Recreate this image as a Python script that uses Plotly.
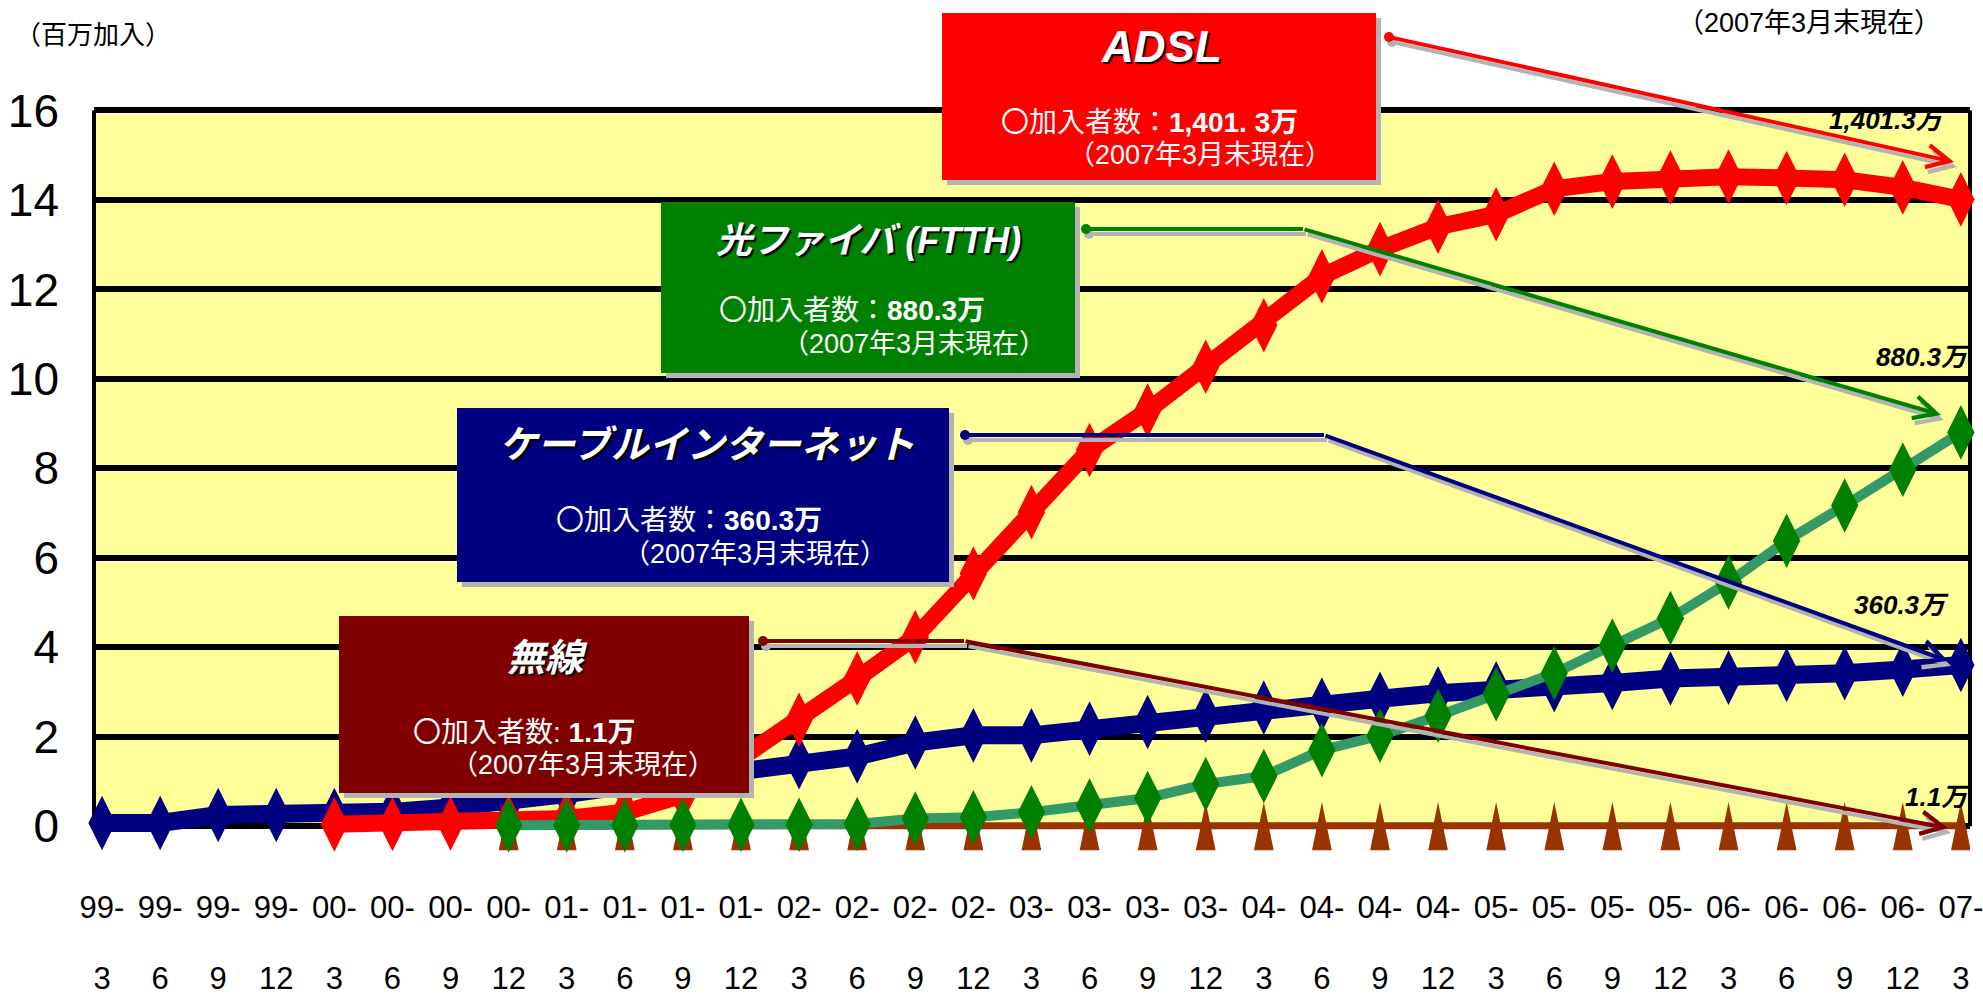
import plotly.graph_objects as go

# ---- quarter-end categories, March 1999 .. March 2007 ----
year_labels = ["99-", "99-", "99-", "99-", "00-", "00-", "00-", "00-",
               "01-", "01-", "01-", "01-", "02-", "02-", "02-", "02-",
               "03-", "03-", "03-", "03-", "04-", "04-", "04-", "04-",
               "05-", "05-", "05-", "05-", "06-", "06-", "06-", "06-", "07-"]
month_labels = ["3", "6", "9", "12", "3", "6", "9", "12",
                "3", "6", "9", "12", "3", "6", "9", "12",
                "3", "6", "9", "12", "3", "6", "9", "12",
                "3", "6", "9", "12", "3", "6", "9", "12", "3"]

# ---- subscribers (millions) ----
cable = [0.07, 0.07, 0.25, 0.25, 0.25, 0.32, 0.42, 0.53, 0.72, 0.90, 1.08, 1.28,
         1.43, 1.56, 1.87, 2.03, 2.03, 2.18, 2.33, 2.47, 2.65, 2.72, 2.85, 2.97,
         3.08, 3.15, 3.20, 3.30, 3.32, 3.38, 3.42, 3.50, 3.603]
adsl = [None, None, None, None, 0.04, 0.05, 0.06, 0.10, 0.17, 0.31, 0.70, 1.52,
        2.38, 3.30, 4.23, 5.65, 7.02, 8.41, 9.29, 10.27, 11.20, 12.29, 12.90, 13.40,
        13.68, 14.25, 14.41, 14.50, 14.52, 14.49, 14.45, 14.28, 14.013]
ftth = [None, None, None, None, None, None, None, 0.02, 0.02, 0.02, 0.03, 0.03,
        0.03, 0.05, 0.17, 0.20, 0.31, 0.46, 0.63, 0.94, 1.12, 1.70, 2.02, 2.47,
        2.95, 3.42, 4.04, 4.65, 5.45, 6.38, 7.17, 7.97, 8.803]
wireless = [None, None, None, None, None, None, None, 0.01, 0.01, 0.01, 0.01, 0.01,
            0.01, 0.01, 0.01, 0.01, 0.01, 0.01, 0.01, 0.01, 0.01, 0.01, 0.01, 0.01,
            0.01, 0.01, 0.01, 0.01, 0.01, 0.01, 0.01, 0.01, 0.011]

idx = list(range(len(year_labels)))

# ---- fonts & colours ----
AXISFONT = "Liberation Sans, Arial, sans-serif"
LATIN_JP = "Liberation Sans, Arial, Noto Sans CJK JP, sans-serif"
JP = "Noto Sans CJK JP, sans-serif"
SHADOW = "#B3B3B3"

# ---- page geometry (pixels) ----
FIG_W, FIG_H = 1983, 1002
L, R, T, B = 94, 1970, 106, 853


def px(x):
    return (x - L) / (R - L)


def py(y):
    return (B - y) / (B - T)


def spike_outline(values, half_w=0.17, up=0.53, down=0.55):
    """Tall narrow triangles centred on each value."""
    xs, ys = [], []
    for i, v in enumerate(values):
        if v is None:
            continue
        xs += [i - half_w, i, i + half_w, i - half_w, None]
        ys += [v - down, v + up, v - down, v - down, None]
    return xs, ys


fig = go.Figure()

sx, sy = spike_outline(wireless)
fig.add_trace(go.Scatter(x=sx, y=sy, mode="lines", fill="toself",
                         fillcolor="#993300", line=dict(width=0, color="#993300"),
                         hoverinfo="skip", showlegend=False))
fig.add_trace(go.Scatter(x=idx, y=wireless, mode="lines", name="無線",
                         line=dict(color="#993300", width=7), showlegend=False))

diamond = dict(symbol="diamond-tall", size=39, line=dict(width=0))
fig.add_trace(go.Scatter(x=idx, y=cable, mode="lines+markers", name="ケーブルインターネット",
                         line=dict(color="#000080", width=18),
                         marker=dict(color="#000080", **diamond),
                         cliponaxis=False, showlegend=False))
fig.add_trace(go.Scatter(x=idx, y=adsl, mode="lines+markers", name="ADSL",
                         line=dict(color="#FF0000", width=17),
                         marker=dict(color="#FF0000", **diamond),
                         cliponaxis=False, showlegend=False))
fig.add_trace(go.Scatter(x=idx, y=ftth, mode="lines+markers", name="光ファイバ(FTTH)",
                         line=dict(color="#339966", width=10),
                         marker=dict(color="#008000", **diamond),
                         cliponaxis=False, showlegend=False))
# carrier for the second (month) row of category labels
fig.add_trace(go.Scatter(x=idx, y=[None] * len(idx), xaxis="x2", mode="lines",
                         hoverinfo="skip", showlegend=False))

shapes = []
# plot background (only between 0 and 16)
shapes.append(dict(type="rect", xref="paper", yref="y", x0=0, x1=1, y0=0, y1=16,
                   fillcolor="#FFFF99", line=dict(width=0), layer="below"))
# left / right frame
for xx in (0, 1):
    shapes.append(dict(type="line", xref="paper", yref="y", x0=xx, x1=xx, y0=0, y1=16,
                       line=dict(color="black", width=4), layer="between"))

# ---- call-out boxes ----
boxes = [
    (942, 13, 1376, 180, "#FF0000"),
    (661, 202, 1075, 373, "#008000"),
    (457, 408, 949, 582, "#000080"),
    (339, 616, 749, 793, "#800000"),
]
for x0, y0, x1, y1, col in boxes:
    shapes.append(dict(type="rect", xref="paper", yref="paper",
                       x0=px(x0 + 5), x1=px(x1 + 5), y0=py(y1 + 5), y1=py(y0 + 5),
                       fillcolor=SHADOW, line=dict(width=0), layer="above"))
    shapes.append(dict(type="rect", xref="paper", yref="paper",
                       x0=px(x0), x1=px(x1), y0=py(y1), y1=py(y0),
                       fillcolor=col, line=dict(width=0), layer="above"))

# ---- connectors: dot, optional horizontal run, then arrow to the series end ----
connectors = [
    ([(1389, 37)], (1954, 162), "#FF0000"),
    ([(1086, 229), (1303, 229)], (1941, 415), "#008000"),
    ([(965, 435), (1324, 435)], (1948, 661), "#000080"),
    ([(763, 641), (964, 641)], (1948, 828), "#800000"),
]
annotations = []
for pts, tip, col in connectors:
    for dx, dy, c in ((3, 5, SHADOW), (0, 0, col)):
        sx0, sy0 = pts[0]
        r = 5
        shapes.append(dict(type="circle", xref="paper", yref="paper",
                           x0=px(sx0 + dx - r), x1=px(sx0 + dx + r),
                           y0=py(sy0 + dy + r), y1=py(sy0 + dy - r),
                           fillcolor=c, line=dict(width=0), layer="above"))
        if len(pts) > 1:
            (ax0, ay0), (ax1, ay1) = pts[0], pts[1]
            shapes.append(dict(type="line", xref="paper", yref="paper",
                               x0=px(ax0 + dx), x1=px(ax1 + dx),
                               y0=py(ay0 + dy), y1=py(ay1 + dy),
                               line=dict(color=c, width=4), layer="above"))
        tail = pts[-1]
        annotations.append(dict(xref="paper", yref="paper",
                                x=px(tip[0] + dx), y=py(tip[1] + dy),
                                ax=tail[0] - tip[0], ay=tail[1] - tip[1],
                                text="", showarrow=True, arrowhead=5,
                                arrowsize=1.1, arrowwidth=4, arrowcolor=c, standoff=0))


def note(text, x, y, size, color="white", family=LATIN_JP, anchor="left",
         bold=False, italic=False, shadow=None):
    font = dict(family=family, size=size, color=color)
    if bold:
        font["weight"] = "bold"
    if italic:
        font["style"] = "italic"
    if shadow:
        font["shadow"] = shadow
    annotations.append(dict(xref="paper", yref="paper", x=px(x), y=py(y),
                            xanchor=anchor, yanchor="middle", text=text,
                            showarrow=False, font=font))


TITLE_SHADOW = "2px 2px 1px #000000"
# ADSL
note("ADSL", 1161, 47, 44, anchor="center", bold=True, italic=True, shadow=TITLE_SHADOW)
note("〇加入者数：<b>1,401. 3万</b>", 999, 123, 28)
note("（2007年3月末現在）", 1066, 155, 27)
# FTTH
note("光ファイバ (FTTH)", 868, 240, 36, anchor="center", bold=True, italic=True,
     shadow=TITLE_SHADOW)
note("〇加入者数：<b>880.3万</b>", 717, 310, 28)
note("（2007年3月末現在）", 780, 344, 27)
# cable
note("ケーブルインターネット", 707, 445, 38, anchor="center", bold=True, italic=True,
     shadow=TITLE_SHADOW)
note("〇加入者数：<b>360.3万</b>", 554, 520, 28)
note("（2007年3月末現在）", 621, 554, 27)
# wireless
note("無線", 547, 658, 38, anchor="center", bold=True, italic=True, shadow=TITLE_SHADOW)
note("〇加入者数: <b>1.1万</b>", 411, 732, 28)
note("（2007年3月末現在）", 449, 765, 27)

# end-of-series values
note("1,401.3万", 1948, 120, 26, color="black", anchor="right", bold=True, italic=True)
note("880.3万", 1973, 357, 26, color="black", anchor="right", bold=True, italic=True)
note("360.3万", 1951, 605, 26, color="black", anchor="right", bold=True, italic=True)
note("1.1万", 1973, 797, 26, color="black", anchor="right", bold=True, italic=True)

# unit & date
note("（百万加入）", 13, 32, 26, color="black", family=JP)
note("（2007年3月末現在）", 1943, 23, 27, color="black", anchor="right")

xrange = [-0.138, 32.157]
fig.update_layout(
    width=FIG_W, height=FIG_H,
    margin=dict(l=L, r=FIG_W - R, t=T, b=FIG_H - B, pad=0, autoexpand=False),
    paper_bgcolor="white", plot_bgcolor="white",
    showlegend=False,
    shapes=shapes, annotations=annotations,
    xaxis=dict(range=xrange, tickmode="array", tickvals=idx,
               ticktext=year_labels, tickangle=0, showgrid=False, zeroline=False,
               showline=False, ticks="", ticklabelstandoff=33, automargin=False,
               ticklabeloverflow="allow",
               tickfont=dict(family=AXISFONT, size=31, color="black")),
    xaxis2=dict(range=xrange, overlaying="x", anchor="y", side="bottom",
                tickmode="array", tickvals=idx, ticktext=month_labels, tickangle=0,
                showgrid=False, zeroline=False, showline=False, ticks="",
                ticklabelstandoff=104, ticklabeloverflow="allow", automargin=False,
                tickfont=dict(family=AXISFONT, size=31, color="black")),
    yaxis=dict(range=[-0.6, 16.1], tickmode="array",
               tickvals=[0, 2, 4, 6, 8, 10, 12, 14, 16],
               ticktext=["0", "2", "4", "6", "8", "10", "12", "14", "16"],
               showgrid=True, gridcolor="black", gridwidth=6, zeroline=False,
               showline=False, ticks="", ticklabelstandoff=34, automargin=False,
               ticklabeloverflow="allow",
               tickfont=dict(family=AXISFONT, size=46, color="black")),
)

fig.write_html("out.html", include_plotlyjs=True, full_html=True,
               config={"displayModeBar": False})
